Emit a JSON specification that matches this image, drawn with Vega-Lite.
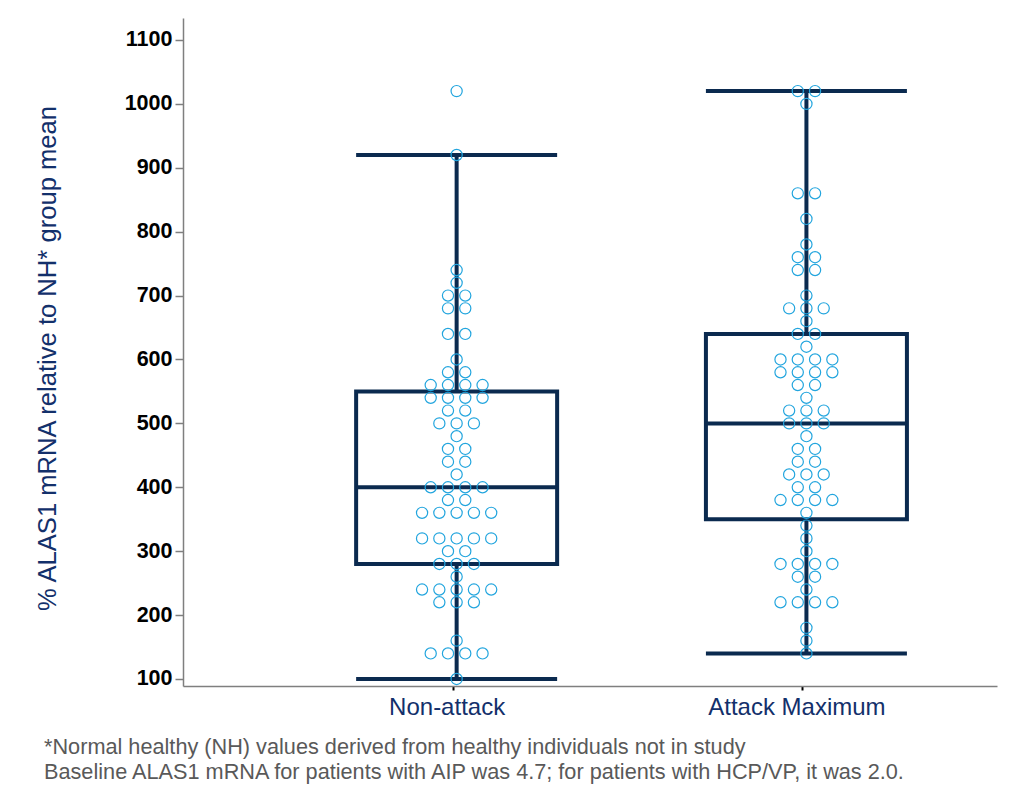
{
  "$schema": "https://vega.github.io/schema/vega-lite/v6.json",
  "width": 814,
  "height": 668,
  "autosize": {"type": "none"},
  "padding": {"left": 183, "top": 18, "right": 13, "bottom": 104},
  "background": "white",
  "config": {"view": {"stroke": null}, "font": "Liberation Sans"},
  "title": {
    "text": ["*Normal healthy (NH) values derived from healthy individuals not in study", "\u2002Baseline ALAS1 mRNA for patients with AIP was 4.7; for patients with HCP/VP, it was 2.0."],
    "orient": "bottom",
    "anchor": "start",
    "frame": "group",
    "dx": -139,
    "offset": 18,
    "font": "Liberation Sans",
    "fontSize": 21.7,
    "fontWeight": "normal",
    "color": "#595959",
    "lineHeight": 25
  },
  "datasets": {
    "boxes": [
      {"group": "Non-attack", "min": 100, "q1": 280, "median": 400, "q3": 550, "max": 920},
      {"group": "Attack Maximum", "min": 140, "q1": 350, "median": 500, "q3": 640, "max": 1020}
    ],
    "dots": [
      {"group": "Non-attack", "value": 1020, "slot": 0},
      {"group": "Non-attack", "value": 920, "slot": 0},
      {"group": "Non-attack", "value": 740, "slot": 0},
      {"group": "Non-attack", "value": 720, "slot": 0},
      {"group": "Non-attack", "value": 700, "slot": -1},
      {"group": "Non-attack", "value": 700, "slot": 1},
      {"group": "Non-attack", "value": 680, "slot": -1},
      {"group": "Non-attack", "value": 680, "slot": 1},
      {"group": "Non-attack", "value": 640, "slot": -1},
      {"group": "Non-attack", "value": 640, "slot": 1},
      {"group": "Non-attack", "value": 600, "slot": 0},
      {"group": "Non-attack", "value": 580, "slot": -1},
      {"group": "Non-attack", "value": 580, "slot": 1},
      {"group": "Non-attack", "value": 560, "slot": -3},
      {"group": "Non-attack", "value": 560, "slot": -1},
      {"group": "Non-attack", "value": 560, "slot": 1},
      {"group": "Non-attack", "value": 560, "slot": 3},
      {"group": "Non-attack", "value": 540, "slot": -3},
      {"group": "Non-attack", "value": 540, "slot": -1},
      {"group": "Non-attack", "value": 540, "slot": 1},
      {"group": "Non-attack", "value": 540, "slot": 3},
      {"group": "Non-attack", "value": 520, "slot": -1},
      {"group": "Non-attack", "value": 520, "slot": 1},
      {"group": "Non-attack", "value": 500, "slot": -2},
      {"group": "Non-attack", "value": 500, "slot": 0},
      {"group": "Non-attack", "value": 500, "slot": 2},
      {"group": "Non-attack", "value": 480, "slot": 0},
      {"group": "Non-attack", "value": 460, "slot": -1},
      {"group": "Non-attack", "value": 460, "slot": 1},
      {"group": "Non-attack", "value": 440, "slot": -1},
      {"group": "Non-attack", "value": 440, "slot": 1},
      {"group": "Non-attack", "value": 420, "slot": 0},
      {"group": "Non-attack", "value": 400, "slot": -3},
      {"group": "Non-attack", "value": 400, "slot": -1},
      {"group": "Non-attack", "value": 400, "slot": 1},
      {"group": "Non-attack", "value": 400, "slot": 3},
      {"group": "Non-attack", "value": 380, "slot": -1},
      {"group": "Non-attack", "value": 380, "slot": 1},
      {"group": "Non-attack", "value": 360, "slot": -4},
      {"group": "Non-attack", "value": 360, "slot": -2},
      {"group": "Non-attack", "value": 360, "slot": 0},
      {"group": "Non-attack", "value": 360, "slot": 2},
      {"group": "Non-attack", "value": 360, "slot": 4},
      {"group": "Non-attack", "value": 320, "slot": -4},
      {"group": "Non-attack", "value": 320, "slot": -2},
      {"group": "Non-attack", "value": 320, "slot": 0},
      {"group": "Non-attack", "value": 320, "slot": 2},
      {"group": "Non-attack", "value": 320, "slot": 4},
      {"group": "Non-attack", "value": 300, "slot": -1},
      {"group": "Non-attack", "value": 300, "slot": 1},
      {"group": "Non-attack", "value": 280, "slot": -2},
      {"group": "Non-attack", "value": 280, "slot": 0},
      {"group": "Non-attack", "value": 280, "slot": 2},
      {"group": "Non-attack", "value": 260, "slot": 0},
      {"group": "Non-attack", "value": 240, "slot": -4},
      {"group": "Non-attack", "value": 240, "slot": -2},
      {"group": "Non-attack", "value": 240, "slot": 0},
      {"group": "Non-attack", "value": 240, "slot": 2},
      {"group": "Non-attack", "value": 240, "slot": 4},
      {"group": "Non-attack", "value": 220, "slot": -2},
      {"group": "Non-attack", "value": 220, "slot": 0},
      {"group": "Non-attack", "value": 220, "slot": 2},
      {"group": "Non-attack", "value": 160, "slot": 0},
      {"group": "Non-attack", "value": 140, "slot": -3},
      {"group": "Non-attack", "value": 140, "slot": -1},
      {"group": "Non-attack", "value": 140, "slot": 1},
      {"group": "Non-attack", "value": 140, "slot": 3},
      {"group": "Non-attack", "value": 100, "slot": 0},
      {"group": "Attack Maximum", "value": 1020, "slot": -1},
      {"group": "Attack Maximum", "value": 1020, "slot": 1},
      {"group": "Attack Maximum", "value": 1000, "slot": 0},
      {"group": "Attack Maximum", "value": 860, "slot": -1},
      {"group": "Attack Maximum", "value": 860, "slot": 1},
      {"group": "Attack Maximum", "value": 820, "slot": 0},
      {"group": "Attack Maximum", "value": 780, "slot": 0},
      {"group": "Attack Maximum", "value": 760, "slot": -1},
      {"group": "Attack Maximum", "value": 760, "slot": 1},
      {"group": "Attack Maximum", "value": 740, "slot": -1},
      {"group": "Attack Maximum", "value": 740, "slot": 1},
      {"group": "Attack Maximum", "value": 700, "slot": 0},
      {"group": "Attack Maximum", "value": 680, "slot": -2},
      {"group": "Attack Maximum", "value": 680, "slot": 0},
      {"group": "Attack Maximum", "value": 680, "slot": 2},
      {"group": "Attack Maximum", "value": 660, "slot": 0},
      {"group": "Attack Maximum", "value": 640, "slot": -1},
      {"group": "Attack Maximum", "value": 640, "slot": 1},
      {"group": "Attack Maximum", "value": 620, "slot": 0},
      {"group": "Attack Maximum", "value": 600, "slot": -3},
      {"group": "Attack Maximum", "value": 600, "slot": -1},
      {"group": "Attack Maximum", "value": 600, "slot": 1},
      {"group": "Attack Maximum", "value": 600, "slot": 3},
      {"group": "Attack Maximum", "value": 580, "slot": -3},
      {"group": "Attack Maximum", "value": 580, "slot": -1},
      {"group": "Attack Maximum", "value": 580, "slot": 1},
      {"group": "Attack Maximum", "value": 580, "slot": 3},
      {"group": "Attack Maximum", "value": 560, "slot": -1},
      {"group": "Attack Maximum", "value": 560, "slot": 1},
      {"group": "Attack Maximum", "value": 540, "slot": 0},
      {"group": "Attack Maximum", "value": 520, "slot": -2},
      {"group": "Attack Maximum", "value": 520, "slot": 0},
      {"group": "Attack Maximum", "value": 520, "slot": 2},
      {"group": "Attack Maximum", "value": 500, "slot": -2},
      {"group": "Attack Maximum", "value": 500, "slot": 0},
      {"group": "Attack Maximum", "value": 500, "slot": 2},
      {"group": "Attack Maximum", "value": 480, "slot": 0},
      {"group": "Attack Maximum", "value": 460, "slot": -1},
      {"group": "Attack Maximum", "value": 460, "slot": 1},
      {"group": "Attack Maximum", "value": 440, "slot": -1},
      {"group": "Attack Maximum", "value": 440, "slot": 1},
      {"group": "Attack Maximum", "value": 420, "slot": -2},
      {"group": "Attack Maximum", "value": 420, "slot": 0},
      {"group": "Attack Maximum", "value": 420, "slot": 2},
      {"group": "Attack Maximum", "value": 400, "slot": -1},
      {"group": "Attack Maximum", "value": 400, "slot": 1},
      {"group": "Attack Maximum", "value": 380, "slot": -3},
      {"group": "Attack Maximum", "value": 380, "slot": -1},
      {"group": "Attack Maximum", "value": 380, "slot": 1},
      {"group": "Attack Maximum", "value": 380, "slot": 3},
      {"group": "Attack Maximum", "value": 360, "slot": 0},
      {"group": "Attack Maximum", "value": 340, "slot": 0},
      {"group": "Attack Maximum", "value": 320, "slot": 0},
      {"group": "Attack Maximum", "value": 300, "slot": 0},
      {"group": "Attack Maximum", "value": 280, "slot": -3},
      {"group": "Attack Maximum", "value": 280, "slot": -1},
      {"group": "Attack Maximum", "value": 280, "slot": 1},
      {"group": "Attack Maximum", "value": 280, "slot": 3},
      {"group": "Attack Maximum", "value": 260, "slot": -1},
      {"group": "Attack Maximum", "value": 260, "slot": 1},
      {"group": "Attack Maximum", "value": 240, "slot": 0},
      {"group": "Attack Maximum", "value": 220, "slot": -3},
      {"group": "Attack Maximum", "value": 220, "slot": -1},
      {"group": "Attack Maximum", "value": 220, "slot": 1},
      {"group": "Attack Maximum", "value": 220, "slot": 3},
      {"group": "Attack Maximum", "value": 180, "slot": 0},
      {"group": "Attack Maximum", "value": 160, "slot": 0},
      {"group": "Attack Maximum", "value": 140, "slot": 0}
    ]
  },
  "encoding": {
    "x": {
      "field": "group",
      "type": "nominal",
      "sort": ["Non-attack", "Attack Maximum"],
      "scale": {"type": "band", "domain": ["Non-attack", "Attack Maximum"], "paddingInner": 0.4243, "paddingOuter": 0.3757, "align": 0.658, "round": false},
      "axis": {
        "title": null,
        "labelAngle": 0,
        "labelFont": "Liberation Sans",
        "labelFontSize": 24,
        "labelColor": "#13306b",
        "labelPadding": 5,
        "labelOffset": -6,
        "domainColor": "#7f7f7f",
        "domainWidth": 1.5,
        "tickColor": "#000000",
        "tickSize": 4,
        "tickWidth": 2,
        "tickOffset": -4,
        "grid": false
      }
    }
  },
  "layer": [
    {
      "data": {"name": "boxes"},
      "mark": {"type": "rule", "color": "#0b2a4f", "strokeWidth": 4},
      "encoding": {
        "y": {
          "field": "max",
          "type": "quantitative",
          "scale": {"domain": [89, 1134.4], "nice": false, "zero": false},
          "axis": {
            "title": "% ALAS1 mRNA relative to NH* group mean",
            "values": [100, 200, 300, 400, 500, 600, 700, 800, 900, 1000, 1100],
            "format": "d",
            "grid": false,
            "labelFont": "Liberation Sans",
            "labelFontSize": 21.5,
            "labelFontWeight": "bold",
            "labelColor": "#000000",
            "labelPadding": 3,
            "tickSize": 8,
            "tickColor": "#7f7f7f",
            "tickWidth": 1.5,
            "domainColor": "#7f7f7f",
            "domainWidth": 1.5,
            "titleFont": "Liberation Sans",
            "titleFontSize": 25.6,
            "titleFontWeight": "normal",
            "titleColor": "#13306b",
            "titleX": -136,
            "titleY": 340,
            "titleAngle": -90,
            "titleAlign": "center",
            "titleBaseline": "middle"
          }
        },
        "y2": {"field": "q3"}
      }
    },
    {
      "data": {"name": "boxes"},
      "mark": {"type": "rule", "color": "#0b2a4f", "strokeWidth": 4},
      "encoding": {
        "y": {"field": "q1", "type": "quantitative"},
        "y2": {"field": "min"}
      }
    },
    {
      "data": {"name": "boxes"},
      "mark": {"type": "bar", "fill": "white", "fillOpacity": 0, "stroke": "#0b2a4f", "strokeWidth": 4, "width": 201},
      "encoding": {
        "y": {"field": "q1", "type": "quantitative"},
        "y2": {"field": "q3"}
      }
    },
    {
      "data": {"name": "boxes"},
      "mark": {"type": "tick", "color": "#0b2a4f", "opacity": 1, "size": 201, "thickness": 4, "orient": "horizontal"},
      "encoding": {"y": {"field": "median", "type": "quantitative"}}
    },
    {
      "data": {"name": "boxes"},
      "mark": {"type": "tick", "color": "#0b2a4f", "opacity": 1, "size": 201, "thickness": 4, "orient": "horizontal"},
      "encoding": {"y": {"field": "max", "type": "quantitative"}}
    },
    {
      "data": {"name": "boxes"},
      "mark": {"type": "tick", "color": "#0b2a4f", "opacity": 1, "size": 201, "thickness": 4, "orient": "horizontal"},
      "encoding": {"y": {"field": "min", "type": "quantitative"}}
    },
    {
      "data": {"name": "dots"},
      "mark": {"type": "point", "shape": "circle", "filled": false, "stroke": "#22a5de", "strokeWidth": 1.2, "size": 125, "opacity": 1},
      "encoding": {
        "y": {"field": "value", "type": "quantitative"},
        "xOffset": {"field": "slot", "type": "quantitative", "scale": {"domain": [-11.65, 11.65]}}
      }
    }
  ]
}
